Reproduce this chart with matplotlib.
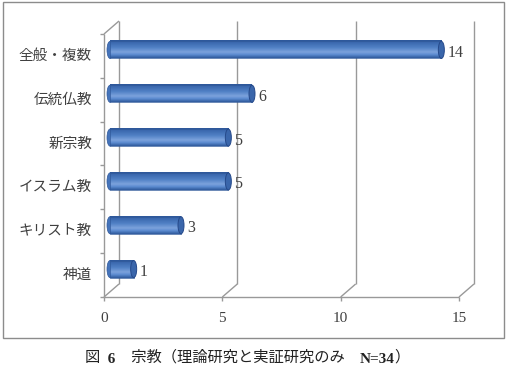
import numpy as np
import matplotlib.pyplot as plt
from matplotlib.patches import Ellipse, Rectangle
from matplotlib.colors import LinearSegmentedColormap

# data
categories = ["神道", "キリスト教", "イスラム教", "新宗教", "伝統仏教", "全般・複数"]
counts = [1, 3, 5, 5, 6, 14]
xticks = [0, 5, 10, 15]

plt.rcParams['font.family'] = ['Noto Sans CJK JP', 'DejaVu Sans']
serif = 'Liberation Serif'
grey = '#999999'
txt = '#404040'

fig = plt.figure(figsize=(5.07, 3.74), dpi=100)
# chart border
fig.patches.append(Rectangle((3 / 507, 1 - 338 / 374), 501 / 507, 336 / 374,
                             transform=fig.transFigure, fill=False,
                             edgecolor='#8c8c8c', lw=1.0))

ax = fig.add_axes([104 / 507, 1 - 297 / 374, 355 / 507, 263 / 374])
ax.set_xlim(0, 15)
ax.set_ylim(-0.5, 5.5)
ax.axis('off')

# pixel -> data units for the fake depth
px_x = 15 / 355
px_y = 6 / 263
dx, dy = 15 * px_x, 13 * px_y
y0, y1 = -0.5, 5.5

lkw = dict(color=grey, lw=1.0, clip_on=False, solid_capstyle='butt')
# left wall
ax.plot([0, 0], [y0, y1], **lkw)
ax.plot([dx, dx], [y0 + dy, y1 + dy], **lkw)
ax.plot([0, dx], [y1, y1 + dy], **lkw)
ax.plot([0, dx], [y0, y0 + dy], **lkw)
for yb in np.arange(y0, y1 + 0.01, 1.0):
    ax.plot([-4 * px_x, 0], [yb, yb], **lkw)
# floor front edge
ax.plot([0, 15], [y0, y0], **lkw)
# back gridlines
for xv in xticks[1:]:
    ax.plot([xv + dx, xv + dx], [y0 + dy, y1 + dy], **lkw)
    ax.plot([xv, xv + dx], [y0, y0 + dy], **lkw)
for xv in xticks:
    ax.plot([xv, xv], [y0, y0 - 4 * px_y], **lkw)
    ax.text(xv, y0 - 21 * px_y, str(xv), ha='center', va='center',
            fontsize=11, family=serif, color=txt)

# cylinder bars
cmap = LinearSegmentedColormap.from_list('cyl', [
    (0.0, '#2f5a9c'), (0.18, '#5b8bd0'), (0.33, '#7ca2dc'),
    (0.6, '#4f7fc4'), (0.88, '#3b68ae'), (1.0, '#2c5597')])
grad = np.linspace(1, 0, 64).reshape(-1, 1)
bh = 0.39
bx = 6 * px_x
by = 6 * px_y
cap_w = 6 * px_x
for i, (cat, v) in enumerate(zip(categories, counts)):
    yc = i + by
    x0, x1 = bx, bx + v
    # left rounded end
    ax.add_patch(Ellipse((x0, yc), cap_w, bh, facecolor='#4574bb',
                         edgecolor='#30599a', lw=0.5, zorder=3))
    ax.imshow(grad, cmap=cmap, aspect='auto',
              extent=(x0, x1, yc - bh / 2, yc + bh / 2), zorder=4)
    ax.add_patch(Rectangle((x0, yc - bh / 2), x1 - x0, bh, fill=False,
                           edgecolor='#30599a', lw=0.5, zorder=5))
    ax.add_patch(Ellipse((x1, yc), cap_w, bh, facecolor='#3a66ab',
                         edgecolor='#25498a', lw=0.7, zorder=6))
    ax.text(x1 + 6 * px_x, yc - 3 * px_y, str(v), ha='left', va='center',
            fontsize=11.5, family=serif, color=txt)
    ax.text(-12 * px_x, i, cat, ha='right', va='center',
            fontsize=10.5, color=txt)
ax.set_xlim(0, 15)
ax.set_ylim(-0.5, 5.5)

# caption, built from pieces so the numbers can be bold serif
pieces = [("図", None, 'normal'), ("  6", serif, 'bold'),
          ("　宗教（理論研究と実証研究のみ　", None, 'normal'),
          ("N=34", serif, 'bold'), ("）", None, 'normal')]
prev = None
for s, fam, wt in pieces:
    kw = dict(fontsize=11, fontweight=wt, color='#222222', va='bottom',
              ha='left')
    if fam:
        kw['family'] = fam
    if prev is None:
        prev = fig.text(85 / 507, 1 - 366 / 374, s, **kw)
    else:
        prev = ax.annotate(s, xy=(1, 0), xycoords=prev,
                           annotation_clip=False, **kw)

fig.savefig('out.png', dpi=100)
